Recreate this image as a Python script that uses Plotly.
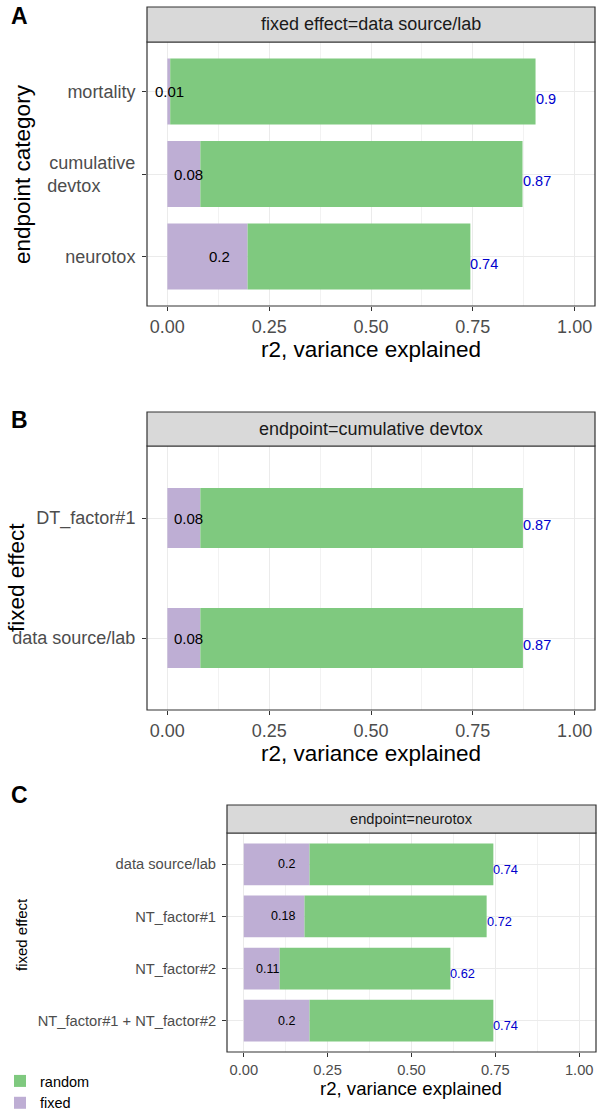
import plotly.graph_objects as go

# ---------------- data ----------------
a_cats = ["mortality", "cumulative devtox", "neurotox"]
a_ticks = ["mortality", "cumulative<br>devtox" + "\u00a0" * 7, "neurotox"]
a_fixed = [0.007, 0.081, 0.197]
a_total = [0.904, 0.872, 0.744]

b_cats = ["DT_factor#1", "data source/lab"]
b_fixed = [0.081, 0.081]
b_total = [0.873, 0.873]

c_cats = ["data source/lab", "NT_factor#1", "NT_factor#2", "NT_factor#1 + NT_factor#2"]
c_fixed = [0.196, 0.181, 0.107, 0.196]
c_total = [0.744, 0.724, 0.616, 0.744]

x_ticks = [0, 0.25, 0.5, 0.75, 1.0]
x_ticklabels = ["0.00", "0.25", "0.50", "0.75", "1.00"]
x_minor = [0.125, 0.375, 0.625, 0.875]

strip_titles = ["fixed effect=data source/lab", "endpoint=cumulative devtox", "endpoint=neurotox"]
y_titles = ["endpoint category", "fixed effect", "fixed effect"]
x_title = "r2, variance explained"
panel_letters = ["A", "B", "C"]

# ---------------- style ----------------
W, H = 601, 1119
GREEN = "#7FC97F"
PURPLE = "#BEAED4"
BLUE = "#0000CD"
FONT = "Liberation Sans, Arial, sans-serif"


def fx(px):
    return px / W


def fy(py):
    return 1 - py / H


def fmt(v):
    return f"{round(v, 2):g}"


panels = [
    dict(cats=a_cats, ticks=a_ticks, fixed=a_fixed, total=a_total, bw=0.8,
         box=(147, 595, 42, 306), strip_top=7, tfs=18, titfs=22.5, labfs=15, valfs=14.5,
         ytitle_x=22, ytitle_y=174, xtitle_y=349, letter_y=16, ylabshift=-7, ytfs=22.5),
    dict(cats=b_cats, ticks=b_cats, fixed=b_fixed, total=b_total, bw=0.5,
         box=(147, 595, 446, 710), strip_top=412, tfs=18, titfs=22.5, labfs=15, valfs=14.5,
         ytitle_x=16, ytitle_y=578, xtitle_y=753, letter_y=420, ylabshift=-7, ytfs=22.5),
    dict(cats=c_cats, ticks=c_cats, fixed=c_fixed, total=c_total, bw=0.8,
         box=(227, 596, 833, 1052), strip_top=805, tfs=14.7, titfs=18.6, labfs=12.5, valfs=12.8,
         ytitle_x=21, ytitle_y=934, xtitle_y=1088, letter_y=795, ylabshift=-5, ytfs=15),
]

fig = go.Figure()
annotations = []
shapes = []
layout_axes = {}

for i, p in enumerate(panels):
    n = i + 1
    xa = "x" if n == 1 else f"x{n}"
    ya = "y" if n == 1 else f"y{n}"
    xkey = "xaxis" if n == 1 else f"xaxis{n}"
    ykey = "yaxis" if n == 1 else f"yaxis{n}"
    x0, x1, y0, y1 = p["box"]
    random_part = [t - f for t, f in zip(p["total"], p["fixed"])]

    fig.add_trace(go.Bar(
        y=p["cats"], x=p["fixed"], orientation="h", width=p["bw"],
        marker=dict(color=PURPLE, line=dict(width=0)), name="fixed",
        legendrank=2, showlegend=(n == 1), xaxis=xa, yaxis=ya, hoverinfo="skip"))
    fig.add_trace(go.Bar(
        y=p["cats"], x=random_part, base=p["fixed"], orientation="h", width=p["bw"],
        marker=dict(color=GREEN, line=dict(width=0)), name="random",
        legendrank=1, showlegend=(n == 1), xaxis=xa, yaxis=ya, hoverinfo="skip"))

    ncat = len(p["cats"])
    layout_axes[xkey] = dict(
        domain=[fx(x0), fx(x1)], anchor=ya, range=[-0.05, 1.05],
        tickmode="array", tickvals=x_ticks, ticktext=x_ticklabels,
        ticks="outside", ticklen=4, tickwidth=1, tickcolor="#333333",
        tickfont=dict(size=p["tfs"], color="#4D4D4D", family=FONT),
        showgrid=True, gridcolor="#EBEBEB", gridwidth=1.2,
        minor=dict(tickvals=x_minor, showgrid=True, gridcolor="#F2F2F2", gridwidth=0.8, ticks=""),
        zeroline=False, showline=False, fixedrange=True)
    layout_axes[ykey] = dict(
        domain=[fy(y1), fy(y0)], anchor=xa, type="category",
        categoryorder="array", categoryarray=p["cats"],
        tickmode="array", tickvals=p["cats"], ticktext=p["ticks"],
        range=[ncat - 0.4, -0.6],
        ticks="outside", ticklen=4, tickwidth=1, tickcolor="#333333",
        ticklabelstandoff=3,
        tickfont=dict(size=p["tfs"], color="#4D4D4D", family=FONT),
        showgrid=True, gridcolor="#EBEBEB", gridwidth=1.2,
        zeroline=False, showline=False, fixedrange=True)

    # panel border
    shapes.append(dict(type="rect", xref=f"{xa} domain", yref=f"{ya} domain",
                       x0=0, x1=1, y0=0, y1=1, line=dict(color="#333333", width=1.2),
                       fillcolor="rgba(0,0,0,0)", layer="above"))
    # strip
    shapes.append(dict(type="rect", xref="paper", yref="paper",
                       x0=fx(x0), x1=fx(x1), y0=fy(y0), y1=fy(p["strip_top"]),
                       line=dict(color="#333333", width=1.2), fillcolor="#D9D9D9"))
    annotations.append(dict(xref="paper", yref="paper", x=fx((x0 + x1) / 2),
                            y=fy((y0 + p["strip_top"]) / 2), text=strip_titles[i],
                            showarrow=False, xanchor="center", yanchor="middle",
                            font=dict(size=p["tfs"], color="#1A1A1A", family=FONT)))
    # axis titles
    annotations.append(dict(xref="paper", yref="paper", x=fx((x0 + x1) / 2),
                            y=fy(p["xtitle_y"]), text=x_title, showarrow=False,
                            xanchor="center", yanchor="middle",
                            font=dict(size=p["titfs"], color="#000000", family=FONT)))
    annotations.append(dict(xref="paper", yref="paper", x=fx(p["ytitle_x"]),
                            y=fy(p["ytitle_y"]), text=y_titles[i], showarrow=False,
                            textangle=-90, xanchor="center", yanchor="middle",
                            font=dict(size=p["ytfs"], color="#000000", family=FONT)))
    # panel letter
    annotations.append(dict(xref="paper", yref="paper", x=fx(9), y=fy(p["letter_y"]),
                            text=f"<b>{panel_letters[i]}</b>", showarrow=False,
                            xanchor="left", yanchor="middle",
                            font=dict(size=23, color="#000000", family=FONT)))
    # value labels
    for c, f, t in zip(p["cats"], p["fixed"], p["total"]):
        annotations.append(dict(xref=xa, yref=ya, x=f * 0.65, y=c, text=fmt(f),
                                showarrow=False, xanchor="center", yanchor="middle",
                                font=dict(size=p["labfs"], color="#000000", family=FONT)))
        annotations.append(dict(xref=xa, yref=ya, x=t, y=c, text=fmt(t),
                                showarrow=False, xanchor="left", yanchor="middle",
                                xshift=-2, yshift=p["ylabshift"],
                                font=dict(size=p["valfs"], color=BLUE, family=FONT)))

fig.update_layout(
    width=W, height=H, margin=dict(l=0, r=0, t=0, b=0),
    paper_bgcolor="white", plot_bgcolor="white",
    barmode="overlay", font=dict(family=FONT),
    showlegend=True,
    legend=dict(x=0.0, y=0.0, xanchor="left", yanchor="bottom",
                orientation="v", font=dict(size=14.5, color="#000000", family=FONT),
                bgcolor="rgba(0,0,0,0)", tracegroupgap=0, itemwidth=30),
    annotations=annotations, shapes=shapes,
    **layout_axes,
)

fig.write_html("out.html", include_plotlyjs=True, full_html=True,
               config={"displayModeBar": False},
               post_script="document.body.style.margin='0';document.body.style.overflow='hidden';")
